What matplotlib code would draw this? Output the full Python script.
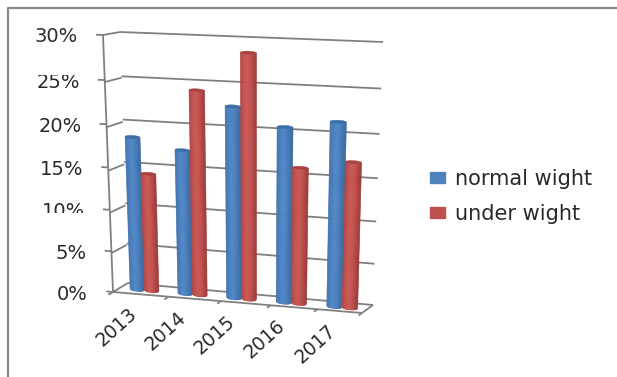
import numpy as np
import matplotlib
matplotlib.use("Agg")
import matplotlib.pyplot as plt
from matplotlib.lines import Line2D
from matplotlib.patches import Patch
from matplotlib.transforms import Transform, Bbox

years = ["2013", "2014", "2015", "2016", "2017"]
normal_wight = [0.184, 0.172, 0.225, 0.205, 0.214]
under_wight = [0.142, 0.241, 0.285, 0.16, 0.17]
value_ticks = [0.0, 0.05, 0.10, 0.15, 0.20, 0.25, 0.30]
tick_labels = ["0%", "5%", "10%", "15%", "20%", "25%", "30%"]
series_names = ["normal wight", "under wight"]

W, H = 617, 377
GRID = "#808080"
TEXT = "#2a2a2a"
BLUE = ("#3a6a9f", "#5089c9", "#4a7dbb", "#3f6ea6")
RED = ("#9c3b39", "#cb5956", "#bf4f4c", "#a84341")
YMAX = 0.30
NCAT = 5

# Corners of the chart box in canvas pixels: bottom-left, bottom-right, top-right, top-left.
FRONT = np.array([(113, 292), (362, 313), (368, 45), (103, 35)], float)
BACK = np.array([(128, 283), (373, 305), (383, 42), (120, 32)], float)


class Plane(Transform):
    """Projective map of a rectangle in data units onto a quadrilateral on the canvas."""
    input_dims = output_dims = 2

    def __init__(self, quad, xspan, yspan):
        super().__init__()
        self.xspan, self.yspan = xspan, yspan
        src = [(0, 0), (1, 0), (1, 1), (0, 1)]
        rows, rhs = [], []
        for (a, b), (x, y) in zip(src, quad):
            rows.append([a, b, 1, 0, 0, 0, -a * x, -b * x])
            rows.append([0, 0, 0, a, b, 1, -a * y, -b * y])
            rhs += [x, y]
        self.h = np.append(np.linalg.solve(np.array(rows), np.array(rhs)), 1).reshape(3, 3)

    def transform_non_affine(self, values):
        v = np.asarray(values, float)
        p = np.c_[v[:, 0] / self.xspan, v[:, 1] / self.yspan, np.ones(len(v))] @ self.h.T
        return np.c_[p[:, 0] / p[:, 2], H - p[:, 1] / p[:, 2]]


def mix(c0, c1, t):
    a, b = np.array(matplotlib.colors.to_rgb(c0)), np.array(matplotlib.colors.to_rgb(c1))
    return a + (b - a) * np.clip(t, 0, 1)


def shade(pos, shades):
    # Highlight left of centre, flat body, darker only towards the rims
    edge, light, mid, _ = shades
    d = abs(pos + 0.15)
    if d < 0.5:
        return mix(light, mid, d / 0.5)
    return mix(mid, edge, (d - 0.5) / 0.65)


def draw_cylinder(ax, plane, left, width, value, shades):
    steps = 16
    t = np.linspace(-1, 1, steps + 1)
    bulge = 0.0024
    for k in range(steps):
        x0, x1 = left + (t[k] + 1) / 2 * width, left + (t[k + 1] + 1) / 2 * width
        s0, s1 = np.sqrt(1 - t[k] ** 2), np.sqrt(1 - t[k + 1] ** 2)
        ax.fill([x0, x1, x1, x0], [-bulge * s0, -bulge * s1, value, value],
                color=shade((t[k] + t[k + 1]) / 2, shades), lw=0.5, transform=plane, zorder=3)
    tt = np.linspace(0, 2 * np.pi, 40)
    ax.fill(left + width / 2 + width / 2 * np.cos(tt), value + 0.7 * bulge * np.sin(tt),
            color=shades[3], lw=0.3, transform=plane, zorder=3.1)


fig = plt.figure(figsize=(W / 100, H / 100), dpi=100)
plt.rcParams["font.family"] = "DejaVu Sans"
ax = fig.add_axes([0, 0, 1, 1])
ax.set_xlim(0, NCAT)
ax.set_ylim(0, YMAX)
ax.set_autoscale_on(False)
ax.axis("off")

front = Plane(FRONT, NCAT, YMAX)
back = Plane(BACK, NCAT, YMAX)
middle = Plane(FRONT * 0.55 + BACK * 0.45 + np.array([1.0, 0]), NCAT, YMAX)
side = Plane([FRONT[0], BACK[0], BACK[3], FRONT[3]], 1, YMAX)
floor = Plane([FRONT[0], FRONT[1], BACK[1], BACK[0]], NCAT, 1)

line = dict(color=GRID, lw=1.3, solid_capstyle="butt", clip_on=False)

# Back wall, side wall and floor
for v in value_ticks:
    ax.plot([0, NCAT], [v, v], transform=back, zorder=1, **line)
    ax.plot([0, 1], [v, v], transform=side, zorder=1, **line)
    ax.plot([-0.14, 0], [v, v], transform=front, zorder=1, **line)
ax.plot([0, 0], [0, YMAX], transform=front, zorder=1, **line)
ax.plot([0, NCAT], [0, 0], transform=floor, zorder=1, **line)
ax.plot([NCAT, NCAT], [0, 1], transform=floor, zorder=1, **line)
for k in range(NCAT + 1):
    ax.plot([k, k], [0, -0.3], transform=floor, zorder=1, **line)

# Paired cylinders for each year
bar_w = 0.30
for i in range(NCAT):
    draw_cylinder(ax, middle, i + 0.5 - bar_w, bar_w, normal_wight[i], BLUE)
    draw_cylinder(ax, middle, i + 0.5, bar_w, under_wight[i], RED)

# Value labels, two of them cut by a clipping row
clip_rows = {0.25: Bbox([[0, 0], [W, H - 75]]), 0.10: Bbox([[0, H - 213], [W, H]])}
for v, lab in zip(value_ticks, tick_labels):
    t = ax.annotate(lab, (0, v), xycoords=front, xytext=(-25, -2), textcoords="offset pixels",
                    ha="right", va="center", fontsize=14, color=TEXT, annotation_clip=False)
    if v in clip_rows:
        t.set_clip_box(clip_rows[v])
        t.set_clip_on(True)

for i, year in enumerate(years):
    ax.annotate(year, (i + 0.5, 0), xycoords=front, xytext=(-20, -33), textcoords="offset pixels",
                ha="center", va="center", rotation=42, rotation_mode="anchor",
                fontsize=13.5, color=TEXT, annotation_clip=False)

handles = [Patch(facecolor="#4f81bd", edgecolor="#4f81bd"),
           Patch(facecolor="#c0504d", edgecolor="#c0504d")]
fig.legend(handles, series_names, loc="center left", bbox_to_anchor=(430 / W, 1 - 196.5 / H),
           frameon=False, fontsize=15, labelcolor=TEXT, handlelength=0.73, handleheight=0.45,
           handletextpad=0.45, labelspacing=0.72, borderpad=0, borderaxespad=0)

# Outer frame: top and left edges only
fig.add_artist(Line2D([7.5 / W, 7.5 / W, 1], [0, 1 - 8 / H, 1 - 8 / H], color="#8a8a8a", lw=1.6,
                      transform=fig.transFigure))

fig.savefig("out.png", dpi=100, facecolor="white")
